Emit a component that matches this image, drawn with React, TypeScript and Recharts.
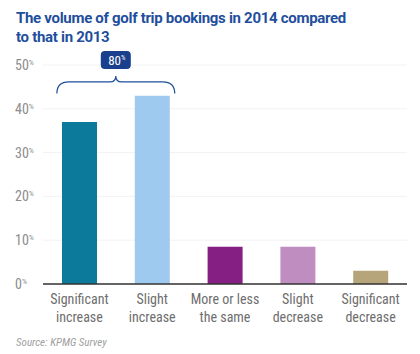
import React from "react";
import { BarChart, Bar, XAxis, YAxis, CartesianGrid, Cell, ReferenceArea } from "recharts";

const categories = [
  "Significant increase",
  "Slight increase",
  "More or less the same",
  "Slight decrease",
  "Significant decrease",
];
const tickLines: [string, string][] = [
  ["Significant", "increase"],
  ["Slight", "increase"],
  ["More or less", "the same"],
  ["Slight", "decrease"],
  ["Significant", "decrease"],
];
const shares = [37, 43, 8.5, 8.5, 3];
const barColors = ["#0b7a9b", "#9fcaef", "#861f84", "#c08dc1", "#b6a57a"];
const yTicks = [0, 10, 20, 30, 40, 50];
const groupedTotal = "80";

const data = categories.map((name, i) => ({ name, value: shares[i] }));

const FONT = "'Liberation Sans Narrow', 'Roboto Condensed', Roboto, sans-serif";
const BAR_SIZE = 35;

function YTick(props: any) {
  const { y, payload } = props;
  return (
    <text x={15} y={y + 5} fill="#8c8c8c" fontFamily={FONT} fontSize={14} textAnchor="start">
      {payload.value}
      <tspan fontSize={8} dy={-5}>%</tspan>
    </text>
  );
}

function XTick(props: any) {
  const { x, y, index } = props;
  const lines = tickLines[index] || ["", ""];
  return (
    <text x={x} y={y} fill="#6e6e6e" fontFamily={FONT} fontSize={14} textAnchor="middle">
      <tspan x={x} dy={12}>{lines[0]}</tspan>
      <tspan x={x} dy={18}>{lines[1]}</tspan>
    </text>
  );
}

// brace over the first two bars; the area spans both full category bands
function Brace(props: any) {
  const { x, y, width, height } = props;
  const band = width / 2;
  const x1 = x + band / 2 - BAR_SIZE / 2 - 5;
  const x2 = x + width - band / 2 + BAR_SIZE / 2 + 5;
  const mid = (x1 + x2) / 2;
  const top = y;
  const bot = y + height;
  const r = 6;
  const d = `M${x1},${bot} Q${x1},${top + r} ${x1 + r * 2},${top + r} L${mid - r},${top + r} Q${mid},${top + r} ${mid},${top} Q${mid},${top + r} ${mid + r},${top + r} L${x2 - r * 2},${top + r} Q${x2},${top + r} ${x2},${bot}`;
  return (
    <g>
      <path d={d} fill="none" stroke="#1f4f9a" strokeWidth={1.2} />
      <rect x={mid - 15} y={top - 25} width={30} height={18} rx={4} fill="#1a3f8c" />
      <text x={mid + 1} y={top - 11} fill="#fff" fontFamily={FONT} fontSize={13} textAnchor="middle">
        {groupedTotal}
        <tspan fontSize={7} dy={-5}>%</tspan>
      </text>
    </g>
  );
}

export default function App() {
  return (
    <div
      style={{
        position: "absolute",
        left: 0,
        top: 0,
        width: 420,
        height: 354,
        background: "#fff",
        overflow: "hidden",
      }}
    >
      <div
        style={{
          position: "absolute",
          left: 16,
          top: 9,
          width: 400,
          fontFamily: "Roboto, 'DejaVu Sans', sans-serif",
          fontWeight: 700,
          fontSize: 15,
          letterSpacing: -0.3,
          lineHeight: "19px",
          color: "#1f4f9c",
        }}
      >
        The volume of golf trip bookings in 2014 compared
        <br />
        to that in 2013
      </div>
      <div style={{ position: "absolute", left: 0, top: 0 }}>
        <BarChart
          width={420}
          height={354}
          data={data}
          margin={{ top: 65, right: 13, bottom: 16, left: 0 }}
        >
          <CartesianGrid vertical={false} stroke="#f2f2f2" />
          <XAxis
            dataKey="name"
            tick={<XTick />}
            tickLine={false}
            axisLine={{ stroke: "#333", strokeWidth: 1.6 }}
            interval={0}
            height={54}
          />
          <YAxis
            domain={[0, 50]}
            ticks={yTicks}
            tick={<YTick />}
            tickLine={false}
            axisLine={false}
            width={43}
          />
          <Bar dataKey="value" barSize={BAR_SIZE} isAnimationActive={false}>
            {data.map((d, i) => (
              <Cell key={d.name} fill={barColors[i]} />
            ))}
          </Bar>
          <ReferenceArea
            x1={categories[0]}
            x2={categories[1]}
            y1={43.5}
            y2={47.5}
            ifOverflow="visible"
            shape={<Brace />}
          />
        </BarChart>
      </div>
      <div
        style={{
          position: "absolute",
          left: 16,
          top: 336,
          fontFamily: FONT,
          fontStyle: "italic",
          fontSize: 11,
          color: "#a0a0a0",
        }}
      >
        Source: KPMG Survey
      </div>
    </div>
  );
}
